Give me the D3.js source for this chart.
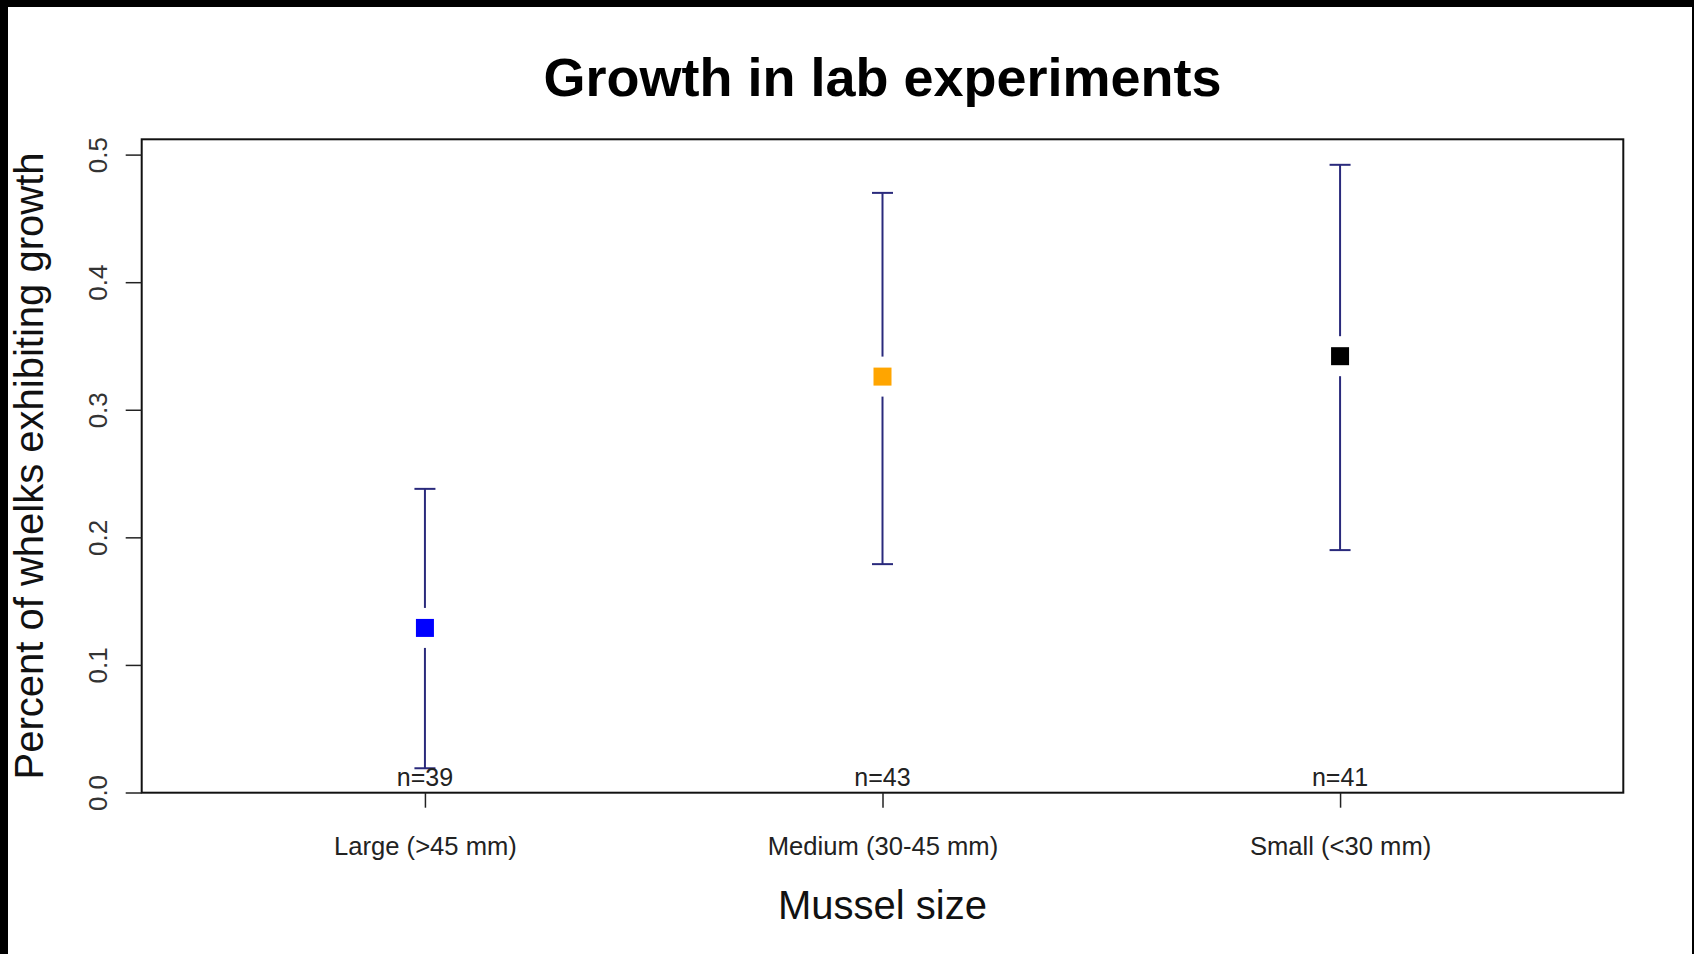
<!DOCTYPE html>
<html>
<head>
<meta charset="utf-8">
<script src="https://cdn.jsdelivr.net/npm/d3@7"></script>
<style>
  body { margin: 0; background: #000; }
  svg { display: block; }
  text { font-family: "Liberation Sans", Arial, sans-serif; }
</style>
</head>
<body>
<svg></svg>
<script>
// data
let categories = ["Large (>45 mm)", "Medium (30-45 mm)", "Small (<30 mm)"];
let means = [0.129, 0.326, 0.342];
let lowers = [0.019, 0.179, 0.190];
let uppers = [0.238, 0.470, 0.492];
let nLabels = ["n=39", "n=43", "n=41"];
let yTicks = [0.0, 0.1, 0.2, 0.3, 0.4, 0.5];

let pointColors = ["#0000ff", "#ffa500", "#000000"];
let barColor = "#2a2a7c";

let width = 1694;
let height = 954;

// plot box
let plotLeft = 141.7;
let plotRight = 1623.3;
let plotTop = 139.3;
let plotBottom = 792.7;

let svg = d3.select("svg").attr("width", width).attr("height", height);

let xScale;
let yScale;

let drawCanvas = () => {
  // black frame round the image
  svg.append("rect").attr("x", 0).attr("y", 0).attr("width", width).attr("height", height).attr("fill", "#000");
  svg.append("rect")
    .attr("x", 8).attr("y", 7)
    .attr("width", 1692 - 8).attr("height", height - 7)
    .attr("fill", "#fff");
};

let generateScales = () => {
  xScale = d3.scalePoint().domain(categories).range([plotLeft, plotRight]).padding(0.619);
  yScale = d3.scaleLinear().domain([0, 0.512]).range([plotBottom - 0.2, plotTop]);
};

let generateAxes = () => {
  let xAxis = d3.axisBottom(xScale).tickSize(15).tickSizeOuter(0);
  let gx = svg.append("g")
    .attr("id", "x-axis")
    .attr("transform", "translate(0," + plotBottom + ")")
    .call(xAxis);
  gx.select(".domain").remove();
  gx.selectAll("line").attr("stroke", "#222").attr("stroke-width", 1.5);
  gx.selectAll("text")
    .attr("y", 62).attr("dy", 0)
    .attr("font-size", 25.6).attr("fill", "#222")
    .attr("font-family", "Liberation Sans, Arial, sans-serif");

  let yAxis = d3.axisLeft(yScale).tickValues(yTicks).tickFormat(d3.format(".1f")).tickSize(16).tickSizeOuter(0);
  let gy = svg.append("g")
    .attr("id", "y-axis")
    .attr("transform", "translate(" + plotLeft + ",0)")
    .call(yAxis);
  gy.select(".domain").remove();
  gy.selectAll("line").attr("stroke", "#222").attr("stroke-width", 1.5);
  gy.selectAll(".tick text")
    .attr("x", 0).attr("dy", 0)
    .attr("transform", "translate(-35,0) rotate(-90)")
    .attr("text-anchor", "middle")
    .attr("font-size", 26).attr("fill", "#333")
    .attr("font-family", "Liberation Sans, Arial, sans-serif");
};

let drawPoints = () => {
  let gap = 20;
  let cap = 10.5;
  let g = svg.append("g").attr("id", "points");

  categories.forEach((c, i) => {
    let x = xScale(c);
    let yMean = yScale(means[i]);
    let yLo = yScale(lowers[i]);
    let yHi = yScale(uppers[i]);

    g.append("line").attr("x1", x).attr("x2", x).attr("y1", yHi).attr("y2", yMean - gap)
      .attr("stroke", barColor).attr("stroke-width", 2);
    g.append("line").attr("x1", x).attr("x2", x).attr("y1", yMean + gap).attr("y2", yLo)
      .attr("stroke", barColor).attr("stroke-width", 2);
    g.append("line").attr("x1", x - cap).attr("x2", x + cap).attr("y1", yHi).attr("y2", yHi)
      .attr("stroke", barColor).attr("stroke-width", 2);
    g.append("line").attr("x1", x - cap).attr("x2", x + cap).attr("y1", yLo).attr("y2", yLo)
      .attr("stroke", barColor).attr("stroke-width", 2);

    g.append("rect")
      .attr("x", x - 9).attr("y", yMean - 9)
      .attr("width", 18).attr("height", 18)
      .attr("fill", pointColors[i]);
  });

  svg.selectAll(".nlab")
    .data(nLabels)
    .enter()
    .append("text")
    .attr("class", "nlab")
    .attr("x", (d, i) => xScale(categories[i]))
    .attr("y", plotBottom - 6.5)
    .attr("text-anchor", "middle")
    .attr("font-size", 25)
    .attr("fill", "#222")
    .text((d) => d);
};

let drawFrame = () => {
  svg.append("rect")
    .attr("x", plotLeft).attr("y", plotTop)
    .attr("width", plotRight - plotLeft).attr("height", plotBottom - plotTop)
    .attr("fill", "none").attr("stroke", "#111").attr("stroke-width", 2);
};

let drawLabels = () => {
  svg.append("text")
    .attr("x", (plotLeft + plotRight) / 2).attr("y", 96)
    .attr("text-anchor", "middle")
    .attr("font-size", 54).attr("font-weight", "bold")
    .attr("fill", "#000")
    .text("Growth in lab experiments");

  svg.append("text")
    .attr("x", (plotLeft + plotRight) / 2).attr("y", 919)
    .attr("text-anchor", "middle")
    .attr("font-size", 40)
    .attr("fill", "#111")
    .text("Mussel size");

  svg.append("text")
    .attr("transform", "translate(43," + (plotTop + plotBottom) / 2 + ") rotate(-90)")
    .attr("text-anchor", "middle")
    .attr("font-size", 40)
    .attr("fill", "#111")
    .text("Percent of whelks exhibiting growth");
};

drawCanvas();
generateScales();
drawFrame();
generateAxes();
drawPoints();
drawLabels();
</script>
</body>
</html>
